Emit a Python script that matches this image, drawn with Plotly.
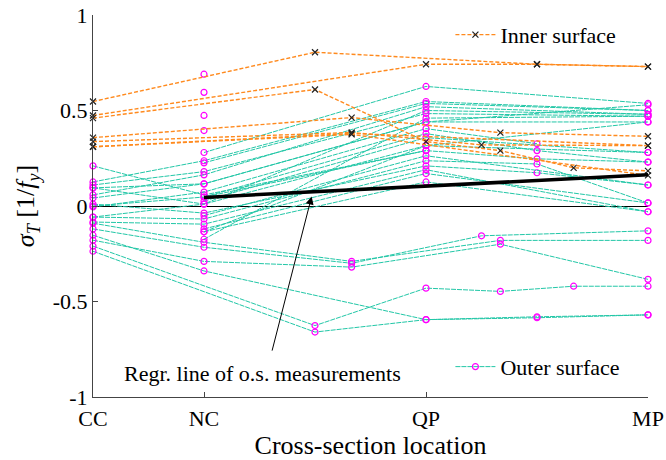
import plotly.graph_objects as go

N = None
# measurement positions along the member (CC, NC, ..., QP, ..., MP)
positions = [0, 1, 2, 2.33, 3, 3.5, 3.67, 4, 4.33, 5]
tick_vals = [0, 1, 3, 5]
tick_text = ["CC", "NC", "QP", "MP"]

# Outer surface series (values at each position, None = not measured)
outer_lines = [
    [-0.237, N, -0.66, N, -0.595, N, N, -0.585, N, -0.57],
    [-0.21, N, -0.626, N, -0.43, N, -0.447, N, -0.42, -0.42],
    [-0.153, -0.34, N, N, -0.595, N, N, -0.58, N, -0.57],
    [-0.09, -0.19, N, -0.29, N, N, -0.18, N, N, -0.18],
    [-0.12, -0.216, N, -0.30, N, -0.156, N, N, N, -0.13],
    [-0.179, -0.29, N, -0.32, N, N, -0.20, N, N, -0.384],
    [0.21, 0.058, N, N, 0.29, N, N, 0.247, N, 0.23],
    [0.126, 0.237, N, N, 0.547, N, N, N, N, 0.50],
    [0.11, 0.18, N, N, 0.484, N, N, N, N, 0.47],
    [0.095, 0.01, N, N, 0.316, N, N, N, N, 0.28],
    [0.058, 0.163, N, N, 0.52, N, N, N, N, 0.48],
    [0.042, 0.116, N, N, 0.44, N, N, N, N, 0.44],
    [0.01, -0.037, N, N, 0.21, N, N, 0.174, N, 0.11],
    [-0.005, 0.073, N, N, 0.405, N, N, 0.326, N, N],
    [-0.058, -0.068, N, N, 0.237, N, N, 0.22, N, 0.016],
    [-0.084, -0.095, N, N, 0.19, N, N, N, N, -0.03],
    [N, 0.28, N, N, 0.626, N, N, N, N, 0.537],
    [N, 0.226, N, N, 0.537, N, N, N, N, 0.50],
    [N, 0.047, N, N, 0.379, N, N, 0.29, N, 0.23],
    [N, 0.026, N, N, 0.358, N, N, N, N, 0.28],
    [N, -0.05, N, N, 0.263, N, N, N, N, 0.11],
    [N, -0.12, N, N, 0.17, N, N, N, N, 0.016],
    [N, -0.135, N, N, 0.126, N, N, N, N, -0.03],
    [N, -0.174, N, N, 0.46, N, N, N, N, 0.47],
    [-0.058, 0.01, N, N, 0.50, N, N, N, N, 0.48],
    [0.095, 0.116, N, N, 0.44, N, N, N, N, 0.53],
    [0.0, 0.047, N, N, 0.29, N, N, N, N, N],
    [N, -0.135, N, N, 0.316, N, N, N, N, 0.44],
]
# isolated outer-surface readings at NC
outer_nc_single = [0.69, 0.595, 0.474, 0.395]

# Inner surface series
inner_lines = [
    [0.547, N, 0.805, N, N, N, N, 0.742, N, 0.73],
    [0.474, N, N, N, 0.742, N, N, 0.742, N, 0.73],
    [0.46, N, 0.61, N, 0.337, N, 0.29, N, 0.20, 0.184],
    [0.358, N, N, 0.463, N, N, 0.384, N, N, 0.365],
    [0.337, N, N, 0.385, N, 0.32, N, N, N, 0.316],
    [0.31, N, N, 0.38, N, N, N, N, N, 0.316],
    [0.31, N, N, 0.375, N, N, N, N, N, 0.16],
]

# regression line of outer-surface measurements
regr_x = [1, 5]
regr_y = [0.045, 0.163]

TEAL = "#22c7a7"
ORANGE = "#ff8a1e"
MAGENTA = "#ff00ff"
FONT = "Liberation Serif"
FS = 22

fig = go.Figure()

for k, ys in enumerate(outer_lines):
    xs = [p for p, v in zip(positions, ys) if v is not None]
    vs = [v for v in ys if v is not None]
    fig.add_trace(go.Scatter(
        x=xs, y=vs, mode="lines+markers", cliponaxis=False,
        line=dict(color=TEAL, width=1, dash="5px,1px"),
        marker=dict(symbol="circle-open", color=MAGENTA, size=6, line=dict(width=1.2, color=MAGENTA)),
        name="Outer surface", legend="legend2", showlegend=(k == 0)))

fig.add_trace(go.Scatter(
    x=[1] * len(outer_nc_single), y=outer_nc_single, mode="markers", cliponaxis=False,
    marker=dict(symbol="circle-open", color=MAGENTA, size=6, line=dict(width=1.2, color=MAGENTA)),
    showlegend=False))

for k, ys in enumerate(inner_lines):
    xs = [p for p, v in zip(positions, ys) if v is not None]
    vs = [v for v in ys if v is not None]
    fig.add_trace(go.Scatter(
        x=xs, y=vs, mode="lines+markers", cliponaxis=False,
        line=dict(color=ORANGE, width=1.4, dash="4px,2px"),
        marker=dict(symbol="x-thin", color="black", size=6, line=dict(width=1.2, color="#222")),
        name="Inner surface", legend="legend", showlegend=(k == 0)))

fig.add_trace(go.Scatter(x=regr_x, y=regr_y, mode="lines",
                         line=dict(color="black", width=3.5), showlegend=False))

# arrow and label
fig.add_annotation(x=1.97, y=0.05, ax=1.61, ay=-0.765, xref="x", yref="y", axref="x", ayref="y",
                   text="", showarrow=True, arrowhead=2, arrowsize=1.6, arrowwidth=1, arrowcolor="black")
fig.add_annotation(x=1.53, y=-0.875, xref="x", yref="y", text="Regr. line of o.s. measurements",
                   showarrow=False, font=dict(family=FONT, size=FS, color="black"))

fig.update_layout(
    width=666, height=460,
    margin=dict(l=93, r=18, t=15, b=63, autoexpand=False),
    plot_bgcolor="white", paper_bgcolor="white",
    font=dict(family=FONT, size=FS, color="black"),
    xaxis=dict(range=[0, 5], tickvals=tick_vals, ticktext=tick_text, showgrid=False, zeroline=False,
               showline=True, linecolor="#444", linewidth=1, ticks="inside", ticklen=5, tickcolor="#444",
               automargin=False, ticklabelstandoff=2,
               title=dict(text="Cross-section location", standoff=4), tickfont=dict(size=FS)),
    yaxis=dict(range=[-1, 1], tickvals=[-1, -0.5, 0, 0.5, 1], ticktext=["-1", "-0.5", "0", "0.5", "1"],
               showgrid=False, zeroline=True, zerolinecolor="black", zerolinewidth=1,
               showline=True, linecolor="#444", linewidth=1, ticks="inside", ticklen=5, tickcolor="#444",
               automargin=False,
               title=dict(text="<i>σ</i><sub><i>T</i></sub> [1/<i>f</i><sub><i>y</i></sub>]", standoff=10),
               tickfont=dict(size=FS)),
    legend=dict(x=0.644, y=0.948, xanchor="left", yanchor="middle", bgcolor="rgba(0,0,0,0)",
                font=dict(family=FONT, size=FS), itemwidth=40),
    legend2=dict(x=0.644, y=0.079, xanchor="left", yanchor="middle", bgcolor="rgba(0,0,0,0)",
                 font=dict(family=FONT, size=FS), itemwidth=40),
)

fig.write_html("out.html")
